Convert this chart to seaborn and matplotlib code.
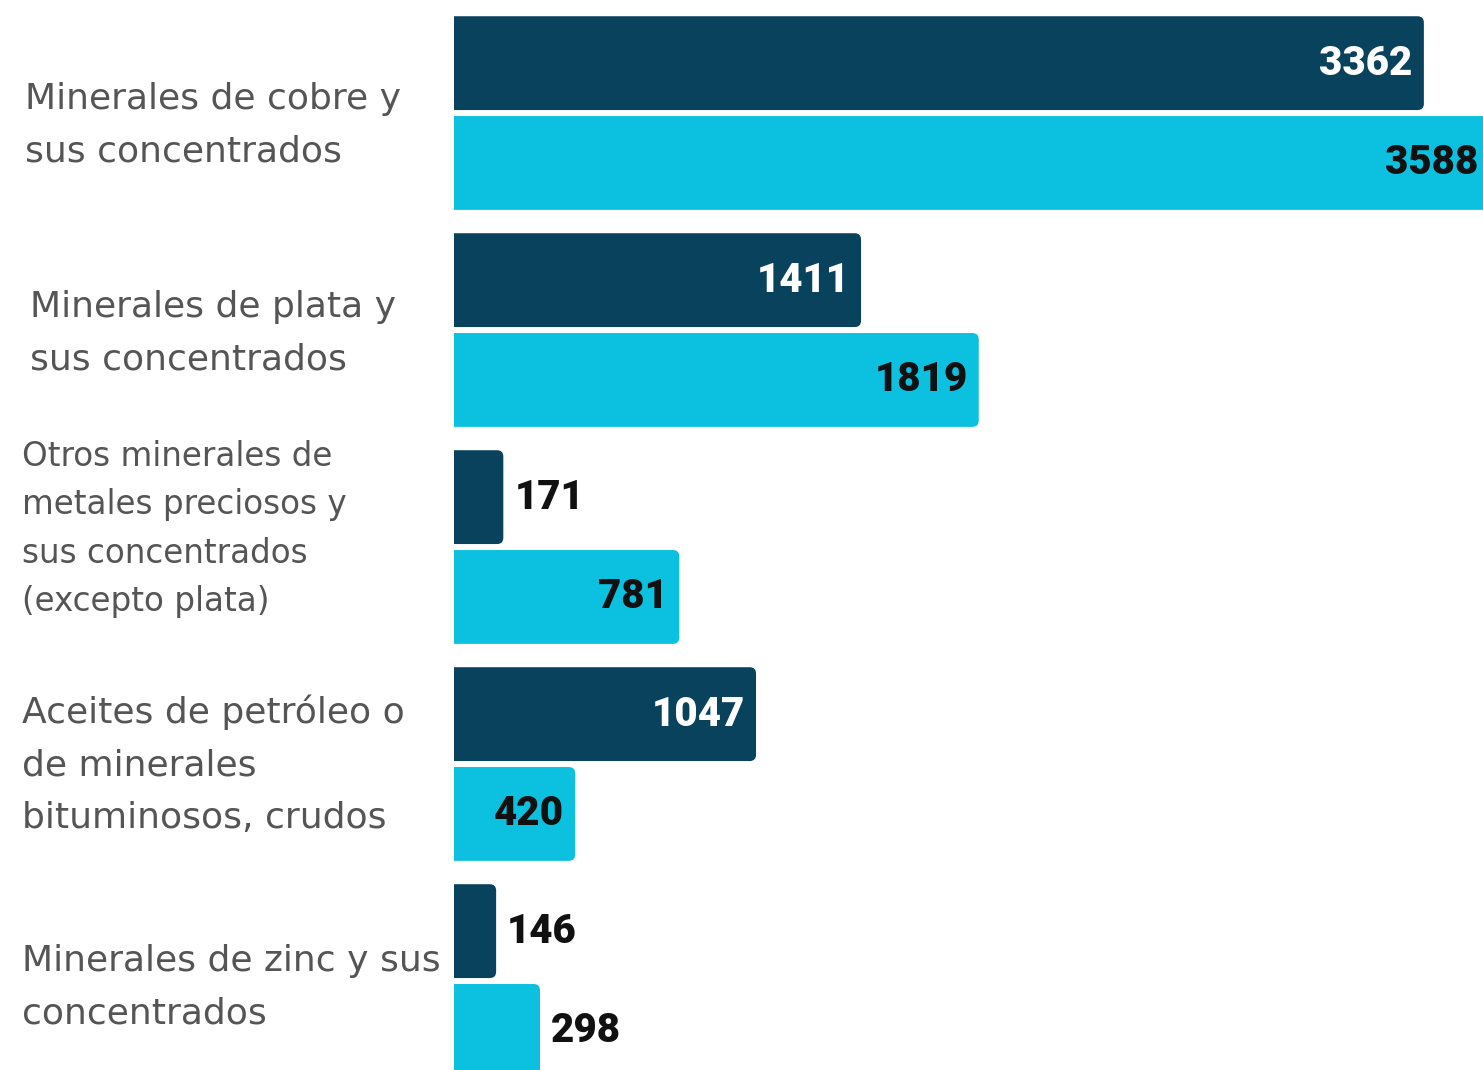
import matplotlib
matplotlib.use("Agg")
import matplotlib.pyplot as plt
import pandas as pd
import seaborn as sns
from matplotlib.patches import FancyBboxPatch

# Datos del gráfico
categorias = [
    "Minerales de cobre y\nsus concentrados",
    "Minerales de plata y\nsus concentrados",
    "Otros minerales de\nmetales preciosos y\nsus concentrados\n(excepto plata)",
    "Aceites de petróleo o\nde minerales\nbituminosos, crudos",
    "Minerales de zinc y sus\nconcentrados",
]
serie_anterior = [3362, 1411, 171, 1047, 146]
serie_actual = [3588, 1819, 781, 420, 298]
series = ["Anterior", "Actual"]

azul_oscuro = "#08425D"
celeste = "#0CC0DF"

df = pd.DataFrame({
    "categoria": categorias * 2,
    "valor": serie_anterior + serie_actual,
    "serie": [series[0]] * len(categorias) + [series[1]] * len(categorias),
})

sns.set_theme(style="white")

fig = plt.figure(figsize=(14.83, 10.70), dpi=100)
ax = fig.add_axes([454 / 1483, 0, 1 - 454 / 1483, 1])

sns.barplot(data=df, y="categoria", x="valor", hue="serie", orient="h",
            palette=[azul_oscuro, celeste], saturation=1, width=0.92, gap=0.06,
            legend=False, ax=ax)

ax.set_xlim(0, 3567)
ax.set_ylim(4.41, -0.521)
sns.despine(ax=ax, left=True, bottom=True)
ax.set_xlabel("")
ax.set_ylabel("")
ax.set_xticks([])
ax.set_yticks([])

# etiquetas de categorías (a la izquierda, texto gris)
x_px = [25, 30, 22, 22, 22]
dy_px = [12, 3, -18, 1, 6]
tamanos = [26, 26, 23.5, 26, 26]
espacios = [1.68, 1.68, 1.6, 1.68, 1.68]
for i, cat in enumerate(categorias):
    ax.text((x_px[i] - 454) / 1029, i + dy_px[i] / 217, cat,
            transform=ax.get_yaxis_transform(), ha="left", va="center",
            fontsize=tamanos[i], color="#555555", family="DejaVu Sans",
            linespacing=espacios[i], clip_on=False)

# barras con esquinas redondeadas
radio = 22
for cont in ax.containers:
    for bar in cont:
        x, y = bar.get_x(), bar.get_y()
        w, h = bar.get_width(), bar.get_height()
        caja = FancyBboxPatch((x - radio, y), w + radio, h,
                              boxstyle=f"round,pad=0,rounding_size={radio}",
                              mutation_aspect=0.029 / radio,
                              facecolor=bar.get_facecolor(), edgecolor="none")
        bar.set_visible(False)
        ax.add_patch(caja)

# etiquetas de valores
for i, cont in enumerate(ax.containers):
    for bar in cont:
        v = bar.get_width()
        yc = bar.get_y() + bar.get_height() / 2
        if v >= 400:
            color = "white" if i == 0 else "#111111"
            ax.annotate(f"{int(v)}", xy=(v, yc), xytext=(-8, 0), textcoords="offset points",
                        ha="right", va="center", fontsize=29, fontweight="heavy",
                        family="Roboto", color=color, annotation_clip=False)
        else:
            ax.annotate(f"{int(v)}", xy=(v, yc), xytext=(8, 0), textcoords="offset points",
                        ha="left", va="center", fontsize=29, fontweight="heavy",
                        family="Roboto", color="#111111", annotation_clip=False)

fig.savefig("out.png", dpi=100)
